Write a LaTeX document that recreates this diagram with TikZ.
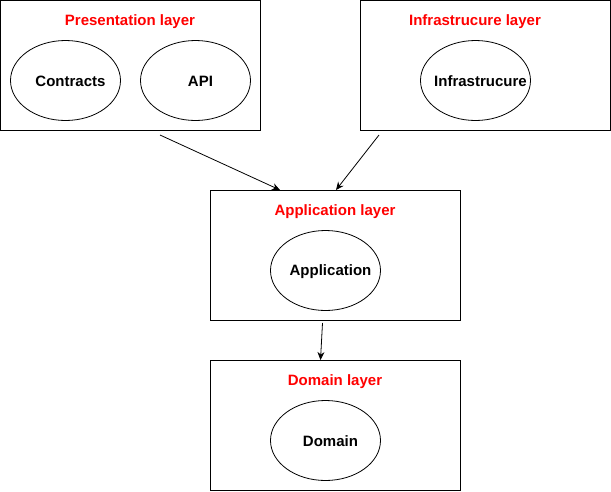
\documentclass[tikz,border=0pt]{standalone}
\usepackage{fontspec}
\setmainfont{Liberation Sans}
\usetikzlibrary{shapes.geometric,arrows.meta}
\begin{document}
\begin{tikzpicture}[x=1pt,y=-1pt,
  layerbox/.style={draw=black,line width=1pt,rectangle,minimum width=250pt,minimum height=130pt,inner sep=0pt},
  widebox/.style={layerbox,minimum width=260pt},
  oval/.style={draw=black,line width=0.8pt,ellipse,minimum width=110pt,minimum height=80pt,inner sep=0pt,
    label={[font=\fontsize{15}{18}\selectfont\bfseries,inner sep=0pt,xshift=5pt,yshift=-1pt]center:#1}},
  title/.style={text=red,font=\fontsize{15}{18}\selectfont\bfseries,inner sep=0pt},
  conn/.style={draw=black,line width=0.8pt,-{Stealth[length=8pt,width=7pt]}}
]
\useasboundingbox (0,0) rectangle (611,491);
% boxes
\node[widebox] (pres) at (130.5,65.5) {};
\node[layerbox] (infra) at (485.5,65.5) {};
\node[layerbox] (app) at (335.5,255.5) {};
\node[layerbox] (dom) at (335.5,425.5) {};
% titles
\node[title] (prest) at (130,22) {Presentation layer};
\node[title] (infrat) at (475,22) {Infrastrucure layer};
\node[title] (appt) at (335,212) {Application layer};
\node[title] (domt) at (335,382) {Domain layer};
% ellipses
\node[oval=Contracts] (contracts) at (65.5,80.5) {};
\node[oval=API] (api) at (195.5,80.5) {};
\node[oval=Infrastrucure] (infrae) at (475.5,80.5) {};
\node[oval=Application] (appe) at (325.5,270.5) {};
\node[oval=Domain] (dome) at (325.5,440.5) {};
% connector ends
\coordinate (s1) at (160,135);
\coordinate (e1) at (280,190);
\coordinate (s2) at (379,135);
\coordinate (e2) at (336,190);
\coordinate (s3) at (322.5,323);
\coordinate (e3) at (320.5,360);
\draw[conn] (s1) -- (e1);
\draw[conn] (s2) -- (e2);
\draw[conn] (s3) -- (e3);
\end{tikzpicture}
\end{document}
